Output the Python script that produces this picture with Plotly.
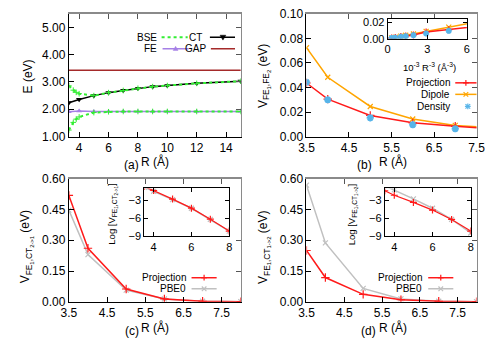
import numpy as np
import plotly.graph_objects as go

# ---------------- data ----------------
# (a) excitation energies
R_a = [3.3, 4, 5, 6, 7, 8, 9, 10, 12, 15]
CT_a = [2.24, 2.36, 2.50, 2.61, 2.69, 2.77, 2.83, 2.87, 2.95, 3.03]
FE_a = [1.91, 1.94, 1.92, 1.92, 1.92, 1.92, 1.92, 1.92, 1.92, 1.92]
R_bse = [3.3, 3.6, 3.8, 4, 5, 6, 7, 8, 9, 10, 12, 15]
BSE_hi = [2.86, 2.70, 2.62, 2.57, 2.50, 2.61, 2.69, 2.77, 2.83, 2.87, 2.95, 3.03]
BSE_lo = [1.24, 1.52, 1.64, 1.72, 1.88, 1.91, 1.92, 1.92, 1.92, 1.92, 1.92, 1.92]
R_gap = [3.3, 15]
GAP_a = [3.43, 3.43]

# (b) FE-FE coupling
R_b = [3.5, 4, 5, 6, 7, 8, 9, 10, 12, 15]
proj_b = [0.0436, 0.0305, 0.0172, 0.0112, 0.0084, 0.0046, 0.0034, 0.0026, 0.0015, 0.0008]
dip_b = [0.0723, 0.0483, 0.0245, 0.0143, 0.0091, 0.0058, 0.0042, 0.0031, 0.0018, 0.0009]
dens_b = [0.0442, 0.0300, 0.0153, 0.0097, 0.0064, 0.0043, 0.0031, 0.0023, 0.0013, 0.0007]

# (c), (d) FE-CT couplings
R_cd = [3.5, 4, 5, 6, 7, 8]
proj_c = [0.519, 0.261, 0.062, 0.0138, 0.0022, 0.0003]
pbe0_c = [0.447, 0.230, 0.057, 0.0135, 0.0021, 0.0003]
proj_d = [0.250, 0.118, 0.036, 0.0100, 0.0021, 0.0003]
pbe0_d = [0.569, 0.287, 0.065, 0.0136, 0.0021, 0.00022]

# tick values
xt_a = [4, 6, 8, 10, 12, 14]
yt_a = [1, 2, 3, 4, 5]
xt_bcd = [3.5, 4.5, 5.5, 6.5, 7.5]
yt_b = [0, 0.02, 0.04, 0.06, 0.08, 0.10]
yt_cd = [0, 0.15, 0.30, 0.45, 0.60]
xt_ib = [0, 3, 6]
yt_ib = [0, 0.02]
xt_icd = [4, 6, 8]
yt_icd = [-9, -6, -3]

# ---------------- styling ----------------
W, H = 500, 350
FONT = "Liberation Sans, Arial, sans-serif"
RED = "#ff1a1a"
ORANGE = "#ffa500"
SKY = "#56b4e9"
GRAY = "#c0c0c0"
GREEN = "#33ee33"
PURPLE = "#a680e6"
BROWN = "#a52a2a"


def px(x):
    return x / W


def py(y):
    return 1 - y / H


def dom_x(a, b):
    return [px(a), px(b)]


def dom_y(top, bottom):
    return [py(bottom), py(top)]


fig = go.Figure()


def axis(domain, rng, tickvals, anchor, fmt=None, size=12, tl=5, mirror=False):
    d = dict(domain=domain, range=rng, tickvals=tickvals, ticks="inside", ticklen=tl,
             tickcolor="black", showline=True, linecolor="black", linewidth=1,
             showgrid=False, zeroline=False, anchor=anchor,
             tickfont=dict(family=FONT, size=size, color="black"))
    if fmt:
        d["tickformat"] = fmt
    if mirror:
        d["mirror"] = "ticks"
    return d


panels = {
    1: (dom_x(63, 241), dom_y(7, 135)),
    2: (dom_x(309, 485), dom_y(7, 135)),
    3: (dom_x(63, 241), dom_y(179, 307)),
    4: (dom_x(309, 485), dom_y(179, 307)),
    5: (dom_x(393, 475), dom_y(12, 33)),
    6: (dom_x(141, 229), dom_y(189, 239)),
    7: (dom_x(390, 479), dom_y(189, 239)),
}

ranges = {
    1: ([3.3, 15], [1, 5.5], xt_a, yt_a, None, ".2f"),
    2: ([3.5, 7.5], [0, 0.1], xt_bcd, yt_b, None, ".2f"),
    3: ([3.5, 8], [0, 0.6], xt_bcd, yt_cd, None, ".2f"),
    4: ([3.5, 8], [0, 0.6], xt_bcd, yt_cd, None, ".2f"),
    5: ([0, 6], [0, 0.025], xt_ib, yt_ib, None, ".2f"),
    6: ([3.5, 8], [-9, -1], xt_icd, yt_icd, None, None),
    7: ([3.5, 8], [-9, -1], xt_icd, yt_icd, None, None),
}

layout_axes = {}
for i in range(1, 8):
    dx, dy = panels[i]
    xr, yr, xtv, ytv, xf, yf = ranges[i]
    inset = i >= 5
    sz = 11 if inset else 12
    layout_axes["xaxis" if i == 1 else f"xaxis{i}"] = axis(dx, xr, xtv, "y" if i == 1 else f"y{i}", xf, sz, 4 if inset else 5, mirror=inset)
    layout_axes["yaxis" if i == 1 else f"yaxis{i}"] = axis(dy, yr, ytv, "x" if i == 1 else f"x{i}", yf, sz, 4 if inset else 5, mirror=inset)

# gray top/right frame with ticks for the main panels (overlay axes)
for i in range(1, 5):
    xr, yr, xtv, ytv, xf, yf = ranges[i]
    xn, yn = 7 + i, 7 + i
    xid = "x" if i == 1 else f"x{i}"
    yid = "y" if i == 1 else f"y{i}"
    layout_axes[f"xaxis{xn}"] = dict(overlaying=xid, side="top", anchor=yid, range=xr, tickvals=xtv,
                                     ticks="inside", ticklen=5, tickcolor="#555", showline=True,
                                     linecolor="#8a8a8a", linewidth=1.5, showticklabels=False,
                                     showgrid=False, zeroline=False)
    layout_axes[f"yaxis{yn}"] = dict(overlaying=yid, side="right", anchor=xid, range=yr, tickvals=ytv,
                                     ticks="inside", ticklen=5, tickcolor="#555", showline=True,
                                     linecolor="#8a8a8a", linewidth=1.5, showticklabels=False,
                                     showgrid=False, zeroline=False)
    fig.add_trace(go.Scatter(x=[], y=[], xaxis=f"x{xn}", yaxis=f"y{yn}", showlegend=False))


def ref(i):
    return ("x" if i == 1 else f"x{i}"), ("y" if i == 1 else f"y{i}")


def line_trace(i, x, y, color, sym=None, msize=6, width=1.5, dash="solid", mline=1.2, mode="lines+markers"):
    xa, ya = ref(i)
    marker = dict(size=msize, color=color)
    if sym:
        marker["symbol"] = sym
        marker["line"] = dict(color=color, width=mline)
    fig.add_trace(go.Scatter(x=x, y=y, mode=mode, line=dict(color=color, width=width, dash=dash),
                             marker=marker, xaxis=xa, yaxis=ya, showlegend=False))


# (a)
line_trace(1, R_gap, GAP_a, BROWN, mode="lines")
line_trace(1, R_a, FE_a, PURPLE, "triangle-up", 5, mline=0)
line_trace(1, R_a, CT_a, "black", "triangle-down", 5.5, mline=0)
line_trace(1, R_bse, BSE_hi, GREEN, "cross-thin", 4, width=2, dash="dot", mline=1)
line_trace(1, R_bse, BSE_lo, GREEN, "cross-thin", 4, width=2, dash="dot", mline=1)

# (b)
line_trace(2, R_b, dip_b, ORANGE, "x-thin", 5)
line_trace(2, R_b, proj_b, RED, "cross-thin", 6)
line_trace(2, R_b, dens_b, SKY, "asterisk-open", 6, mline=2, mode="markers")
invR3 = [1000.0 / r ** 3 for r in R_b]
line_trace(5, invR3, dip_b, ORANGE, "x-thin", 5)
line_trace(5, invR3, proj_b, RED, "cross-thin", 5)
line_trace(5, invR3, dens_b, SKY, "asterisk-open", 5, mline=2, mode="markers")

# (c)
line_trace(3, R_cd, pbe0_c, GRAY, "x-thin", 5)
line_trace(3, R_cd, proj_c, RED, "cross-thin", 6)
line_trace(6, R_cd, np.log(pbe0_c), GRAY, "x-thin", 5)
line_trace(6, R_cd, np.log(proj_c), RED, "cross-thin", 5, width=1.2)

# (d)
line_trace(4, R_cd, pbe0_d, GRAY, "x-thin", 5)
line_trace(4, R_cd, proj_d, RED, "cross-thin", 6)
line_trace(7, R_cd, np.log(pbe0_d), GRAY, "x-thin", 5)
line_trace(7, R_cd, np.log(proj_d), RED, "cross-thin", 5, width=1.2)

# ---------------- labels, legends ----------------
annotations = []
shapes = []


def text(x, y, s, size=11, angle=0, xanchor="center"):
    annotations.append(dict(x=px(x), y=py(y), xref="paper", yref="paper", text=s, showarrow=False,
                            xanchor=xanchor, yanchor="middle", textangle=angle,
                            font=dict(family=FONT, size=size, color="black")))


# axis titles
for (cx, cy, lab) in [(128, 165, "(a)"), (369, 165, "(b)"), (128, 338, "(c)"), (373, 338, "(d)")]:
    text(cx, cy, lab, 12)
for (cx, cy) in [(152, 161), (399, 161), (152, 334), (399, 334)]:
    text(cx, cy, "R (Å)", 12)

text(21, 72, "E (eV)", 12, -90)
text(265, 72, "V<sub>FE<sub>1</sub>,FE<sub>2</sub></sub> (eV)", 12, -90)
text(19, 250, "V<sub>FE<sub>1</sub>,CT<sub>2-&gt;1</sub></sub> (eV)", 12, -90)
text(265, 250, "V<sub>FE<sub>1</sub>,CT<sub>1-&gt;2</sub></sub> (eV)", 12, -90)
text(108, 216, "Log [V<sub>FE<sub>1</sub>,CT<sub>2-&gt;1</sub></sub>]", 9.5, -90)
text(356, 216, "Log [V<sub>FE<sub>1</sub>,CT<sub>1-&gt;2</sub></sub>]", 9.5, -90)
text(436, 62, "10<sup>-3</sup> R<sup>-3</sup> (Å<sup>-3</sup>)", 9.5)


def seg(x0, y0, x1, y1, color, width=1.5, dash="solid"):
    shapes.append(dict(type="line", xref="paper", yref="paper", x0=px(x0), y0=py(y0), x1=px(x1), y1=py(y1),
                       line=dict(color=color, width=width, dash=dash)))


def mark(kind, x, y, color, s=3.5):
    if kind == "tdown":
        path = f"M{px(x - s)},{py(y - s * 0.7)} L{px(x + s)},{py(y - s * 0.7)} L{px(x)},{py(y + s)} Z"
        shapes.append(dict(type="path", xref="paper", yref="paper", path=path, fillcolor=color,
                           line=dict(color=color, width=0.5)))
    elif kind == "tup":
        path = f"M{px(x - s)},{py(y + s * 0.7)} L{px(x + s)},{py(y + s * 0.7)} L{px(x)},{py(y - s)} Z"
        shapes.append(dict(type="path", xref="paper", yref="paper", path=path, fillcolor=color,
                           line=dict(color=color, width=0.5)))
    if kind in ("plus", "star"):
        seg(x - s, y, x + s, y, color, 1.2)
        seg(x, y - s, x, y + s, color, 1.2)
    if kind in ("x", "star"):
        seg(x - s * 0.8, y - s * 0.8, x + s * 0.8, y + s * 0.8, color, 1.2)
        seg(x - s * 0.8, y + s * 0.8, x + s * 0.8, y - s * 0.8, color, 1.2)


# legend (a)
text(156, 31.5, "BSE", 10, xanchor="right")
seg(159, 31.5, 186, 31.5, GREEN, 2, "dot")
text(203, 31.5, "CT", 10, xanchor="right")
seg(209, 31.5, 235, 31.5, "black", 1.5)
mark("tdown", 222.5, 31.5, "black", 3)
text(156, 43.5, "FE", 10, xanchor="right")
seg(160, 43.5, 187, 43.5, PURPLE, 1.5)
mark("tup", 173.5, 43.5, PURPLE, 2.5)
text(207, 43.5, "GAP", 10, xanchor="right")
seg(210, 43.5, 235, 43.5, BROWN, 1.5)

# legend (b)
text(460, 79, "Projection", 10, xanchor="right")
seg(463, 79, 485, 79, RED)
mark("plus", 474, 79, RED, 3)
text(460, 91, "Dipole", 10, xanchor="right")
seg(463, 91, 485, 91, ORANGE)
mark("x", 474, 91, ORANGE, 3)
text(460, 103.5, "Density", 10, xanchor="right")
mark("star", 476, 103.5, SKY, 3)

# legend (c)
text(186, 282, "Projection", 10, xanchor="right")
seg(190, 282, 216, 282, RED)
mark("plus", 203, 282, RED, 3)
text(186, 293.5, "PBE0", 10, xanchor="right")
seg(190, 293.5, 216, 293.5, GRAY)
mark("x", 203, 293.5, GRAY, 3)

# legend (d)
text(431, 282, "Projection", 10, xanchor="right")
seg(435, 282, 461, 282, RED)
mark("plus", 448, 282, RED, 3)
text(431, 293.5, "PBE0", 10, xanchor="right")
seg(435, 293.5, 461, 293.5, GRAY)
mark("x", 448, 293.5, GRAY, 3)

fig.update_layout(width=W, height=H, margin=dict(l=0, r=0, t=0, b=0),
                  paper_bgcolor="white", plot_bgcolor="white", showlegend=False,
                  font=dict(family=FONT, size=12, color="black"),
                  annotations=annotations, shapes=shapes, **layout_axes)

fig.write_html("out.html", config={"displayModeBar": False, "staticPlot": True},
               post_script="document.body.style.margin='0px';document.body.style.overflow='hidden';")
